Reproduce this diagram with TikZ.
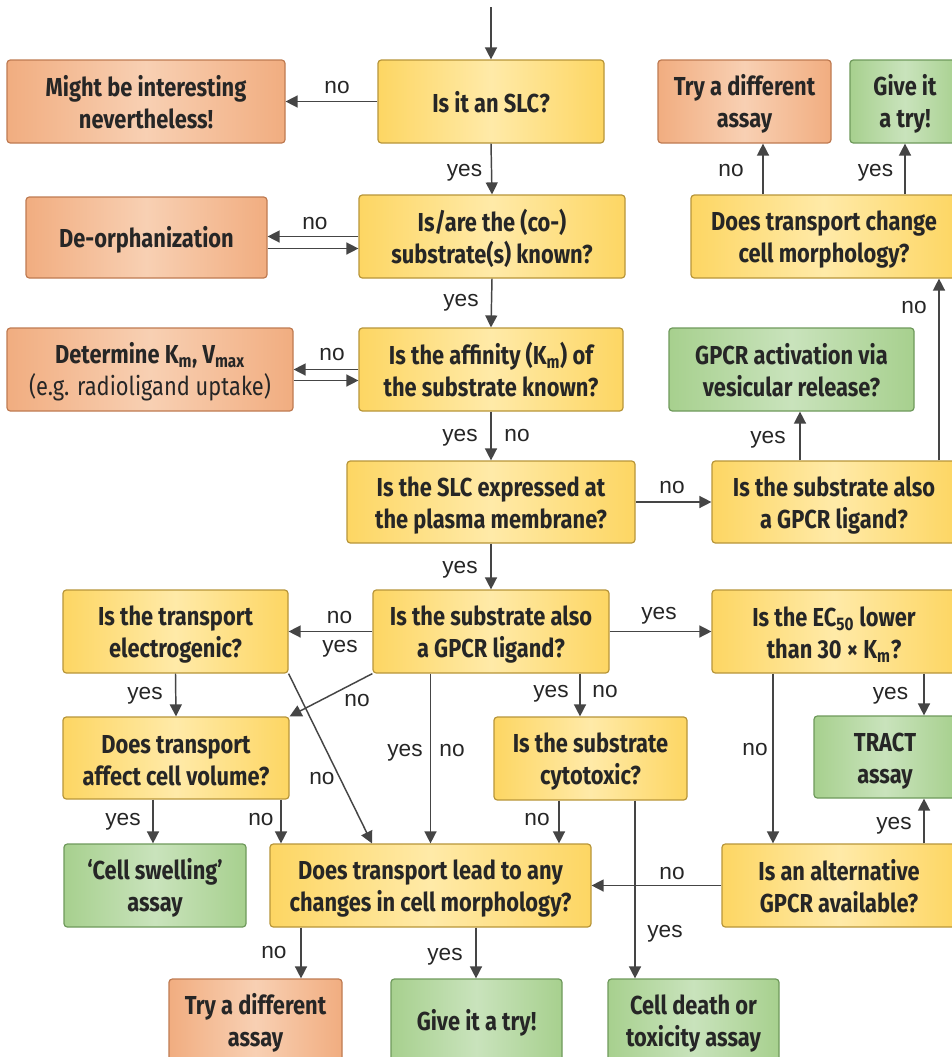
\documentclass[tikz,border=0pt]{standalone}
\usepackage{fontspec}
\setmainfont{Liberation Sans}
\newfontfamily\boxfont[FakeStretch=0.84]{Fira Sans}
\usetikzlibrary{arrows.meta,calc}
\definecolor{txt}{HTML}{262626}
\definecolor{lin}{HTML}{454545}
\definecolor{yedge}{HTML}{FDD663}
\definecolor{ymid}{HTML}{FFEAA8}
\definecolor{ybord}{HTML}{B8963A}
\definecolor{oedge}{HTML}{F1AD80}
\definecolor{omid}{HTML}{F8D0B3}
\definecolor{obord}{HTML}{BF7B52}
\definecolor{gedge}{HTML}{A7D08E}
\definecolor{gmid}{HTML}{C9E3BC}
\definecolor{gbord}{HTML}{6F9A5C}
\newcommand\bs{\rule[-3pt]{0pt}{22.5pt}}
\newcommand\nl{\\\bs}
\tikzset{
  box/.style={rounded corners=2.5pt, line width=0.9pt, align=center, inner sep=0pt, text=txt,
    font=\boxfont\bfseries\fontsize{19.5}{24}\selectfont},
  ybox/.style={box, draw=ybord, left color=yedge, right color=yedge, middle color=ymid},
  obox/.style={box, draw=obord, left color=oedge, right color=oedge, middle color=omid},
  gbox/.style={box, draw=gbord, left color=gedge, right color=gedge, middle color=gmid},
  arr/.style={draw=lin, line width=1.1pt, -{Triangle[width=9pt,length=9pt]}},
  lab/.style={font=\fontsize{17}{20}\selectfont, text=txt, anchor=base, inner sep=0pt},
}
\newcommand\bx[7]{\node[#1, minimum width={(#5-#3)*0.75pt}, minimum height={(#6-#4)*0.75pt}] (#2) at ({(#3+#5)/2},{(#4+#6)/2}) {\bs #7};}
\begin{document}
\begin{tikzpicture}[x=0.75pt,y=-0.75pt]
\useasboundingbox (0,0) rectangle (952,1057);
\fill[white] (0,0) rectangle (952,1057);
\clip (0,0) rectangle (952,1057);
% boxes
\bx{obox}{might}{7}{60}{285}{143}{Might be interesting\nl nevertheless!}
\bx{ybox}{slc}{378}{60}{604}{143}{Is it an SLC?}
\bx{obox}{tryA}{658}{60}{831}{143}{Try a different\nl assay}
\bx{gbox}{giveA}{850}{60}{960}{143}{Give it\nl a try!}
\bx{obox}{deorph}{26}{197}{267}{278}{De-orphanization}
\bx{ybox}{subs}{359}{195}{625}{278}{Is/are the (co-)\nl substrate(s) known?}
\bx{ybox}{morphR}{691}{195}{957}{278}{Does transport change\nl cell morphology?}
\bx{obox}{determ}{7}{328}{293}{411}{Determine K\textsubscript{m}, V\textsubscript{max}\nl {\mdseries (e.g. radioligand uptake)}}
\bx{ybox}{affin}{359}{328}{623}{411}{Is the affinity (K\textsubscript{m}) of\nl the substrate known?}
\bx{gbox}{gpcrAct}{669}{328}{914}{411}{GPCR activation via\nl vesicular release?}
\bx{ybox}{expr}{347}{461}{635}{543}{Is the SLC expressed at\nl the plasma membrane?}
\bx{ybox}{gpcr1}{712}{461}{956}{543}{Is the substrate also\nl a GPCR ligand?}
\bx{ybox}{electro}{63}{590}{288}{673}{Is the transport\nl electrogenic?}
\bx{ybox}{gpcr2}{373}{590}{609}{673}{Is the substrate also\nl a GPCR ligand?}
\bx{ybox}{ec50}{712}{590}{956}{673}{Is the EC\textsubscript{50} lower\nl than 30 × K\textsubscript{m}?}
\bx{ybox}{volume}{63}{717}{289}{799}{Does transport\nl affect cell volume?}
\bx{ybox}{cyto}{494}{717}{687}{800}{Is the substrate\nl cytotoxic?}
\bx{gbox}{tract}{814}{716}{956}{798}{TRACT\nl assay}
\bx{gbox}{swell}{64}{844}{246}{927}{‘Cell swelling’\nl assay}
\bx{ybox}{lead}{270}{844}{591}{927}{Does transport lead to any\nl changes in cell morphology?}
\bx{ybox}{alt}{722}{844}{956}{927}{Is an alternative\nl GPCR available?}
\bx{obox}{tryB}{169}{979}{342}{1061}{Try a different\nl assay}
\bx{gbox}{giveB}{391}{979}{562}{1061}{Give it a try!}
\bx{gbox}{death}{608}{979}{779}{1061}{Cell death or\nl toxicity assay}
% connectors
\coordinate (start) at (491,7);
\draw[arr] (start) -- (slc.north);
\draw[arr] (slc.west) -- (might.east);
\draw[arr] (slc.south) -- (subs.north);
\draw[arr] (subs.west) -- (subs.west -| deorph.east);
\draw[arr] ($(deorph.east)+(0,11)$) coordinate (d1) -- (d1 -| subs.west);
\draw[arr] (subs.south) -- (affin.north);
\draw[arr] (affin.west) -- (affin.west -| determ.east);
\draw[arr] ($(determ.east)+(0,11)$) coordinate (d2) -- (d2 -| affin.west);
\draw[arr] (affin.south) -- (expr.north);
\draw[arr] (expr.east) -- (gpcr1.west);
\draw[arr] ($(gpcr1.north)+(-34,0)$) coordinate (c0) -- (c0 |- gpcrAct.south);
\draw[arr] ($(gpcr1.north)+(105,0)$) coordinate (c6) -- (c6 |- morphR.south);
\draw[arr] ($(morphR.north)+(-61,0)$) coordinate (c7) -- (c7 |- tryA.south);
\draw[arr] (morphR.north -| giveA.south) -- (giveA.south);
\draw[arr] (expr.south) -- (gpcr2.north);
\draw[arr] (gpcr2.west) -- (electro.east);
\draw[arr] (gpcr2.east) -- (ec50.west);
\draw[arr] (electro.south) -- (volume.north);
\draw[arr] (gpcr2.south west) -- (volume.north east);
\draw[arr] (electro.south east) -- ($(lead.north)+(-58.5,0)$);
\draw[arr] (lead.north |- gpcr2.south) -- (lead.north);
\draw[arr] ($(gpcr2.south)+(89,0)$) coordinate (c1) -- (c1 |- cyto.north);
\draw[arr] ($(ec50.south)+(-61,0)$) coordinate (c2) -- (c2 |- alt.north);
\draw[arr] ($(ec50.south)+(90,0)$) coordinate (c3) -- (c3 |- tract.north);
\draw[arr] ($(alt.north)+(85,0)$) coordinate (c4) -- (c4 |- tract.south);
\draw[arr] ($(volume.south)+(-23,0)$) coordinate (c5) -- (c5 |- swell.north);
\draw[arr] ($(volume.south)+(105,0)$) coordinate (c8) -- (c8 |- lead.north);
\draw[arr] ($(cyto.south)+(-31.5,0)$) coordinate (c9) -- (c9 |- lead.north);
\draw[arr] ($(cyto.south)+(44.5,0)$) coordinate (c10) -- (c10 |- death.north);
\draw[arr] (alt.west) -- (lead.east);
\draw[arr] ($(lead.south)+(-129.5,0)$) coordinate (c11) -- (c11 |- tryB.north);
\draw[arr] ($(lead.south)+(45.5,0)$) coordinate (c12) -- (c12 |- giveB.north);
% labels
\node[lab] (l1) at (337,93) {no};
\node[lab] (l2) at (464.5,176) {yes};
\node[lab] (l3) at (315,229) {no};
\node[lab] (l4) at (461,306) {yes};
\node[lab] (l5) at (332,360) {no};
\node[lab] (l6) at (460,441) {yes};
\node[lab] (l7) at (517,441) {no};
\node[lab] (l8) at (672,493) {no};
\node[lab] (l9) at (768,443) {yes};
\node[lab] (l10) at (914,313) {no};
\node[lab] (l11) at (731,176) {no};
\node[lab] (l12) at (875.5,176) {yes};
\node[lab] (l13) at (460,573) {yes};
\node[lab] (l14) at (339.5,623) {no};
\node[lab] (l15) at (340,652) {yes};
\node[lab] (l16) at (659,619) {yes};
\node[lab] (l17) at (145,699) {yes};
\node[lab] (l18) at (357,706) {no};
\node[lab] (l19) at (322,784) {no};
\node[lab] (l20) at (405,756) {yes};
\node[lab] (l21) at (452,756) {no};
\node[lab] (l22) at (551,697) {yes};
\node[lab] (l23) at (605,697) {no};
\node[lab] (l24) at (537,825) {no};
\node[lab] (l25) at (755,755) {no};
\node[lab] (l26) at (890.5,699) {yes};
\node[lab] (l27) at (894,829) {yes};
\node[lab] (l28) at (123,825) {yes};
\node[lab] (l29) at (261,825) {no};
\node[lab] (l30) at (672,879) {no};
\node[lab] (l31) at (665,937) {yes};
\node[lab] (l32) at (274,958) {no};
\node[lab] (l33) at (445,960) {yes};
\end{tikzpicture}
\end{document}
